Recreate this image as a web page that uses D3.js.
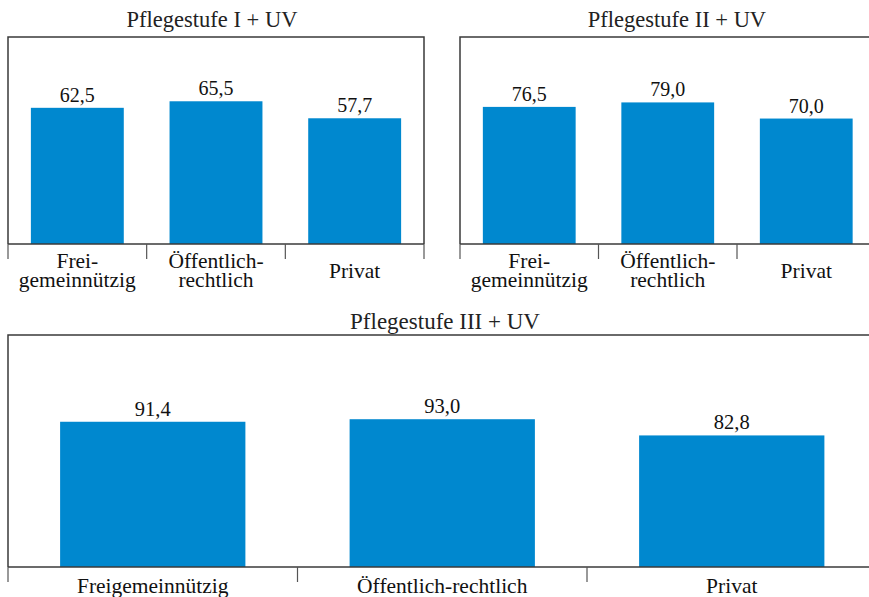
<!DOCTYPE html>
<html>
<head>
<meta charset="utf-8">
<script src="https://cdn.jsdelivr.net/npm/d3@7"></script>
<style>
  html, body { margin: 0; padding: 0; background: #fff; }
  svg { display: block; }
</style>
</head>
<body>
<svg id="chart" width="869" height="597"></svg>
<script>
// values
const panelTitles = ["Pflegestufe I + UV", "Pflegestufe II + UV", "Pflegestufe III + UV"];
const categories = ["Freigemeinnützig", "Öffentlich-rechtlich", "Privat"];
const shortLabels = [["Frei-", "gemeinnützig"], ["Öffentlich-", "rechtlich"], ["Privat"]];
const valuesI = [62.5, 65.5, 57.7];
const valuesII = [76.5, 79.0, 70.0];
const valuesIII = [91.4, 93.0, 82.8];
const yMax = [95, 115.5, 146];

const barColor = "#0088cf";
const lineColor = "#3a3a3a";
const serif = '"Liberation Serif"';
const fmt = (v) => v.toFixed(1).replace(".", ",");

// layout of the three panels
const panels = [
  { title: panelTitles[0], values: valuesI, yMax: yMax[0], x0: 8, x1: 424, top: 37, base: 244,
    barFrac: 0.67, titleX: 212, titleY: 27, tick: 15, labels: shortLabels, titleSize: 22.5, valueSize: 20, labelSize: 21.5 },
  { title: panelTitles[1], values: valuesII, yMax: yMax[1], x0: 460, x1: 875.5, top: 37, base: 244,
    barFrac: 0.67, titleX: 677, titleY: 27, tick: 15, labels: shortLabels, titleSize: 22.5, valueSize: 20, labelSize: 21.5 },
  { title: panelTitles[2], values: valuesIII, yMax: yMax[2], x0: 8, x1: 876.5, top: 335, base: 567,
    barFrac: 0.64, titleX: 445, titleY: 329, tick: 15, labels: categories.map((c) => [c]), titleSize: 23, valueSize: 20.5, labelSize: 21.5, labelDy: 26 }
];

const svg = d3.select("#chart");

panels.forEach((p) => {
  const g = svg.append("g");

  const x = d3.scaleBand().domain(categories).range([p.x0, p.x1]).padding(0);
  const y = d3.scaleLinear().domain([0, p.yMax]).range([p.base, p.top]);
  const bw = x.bandwidth() * p.barFrac;

  // bars
  g.selectAll("rect.bar")
    .data(p.values)
    .join("rect")
    .attr("class", "bar")
    .attr("x", (d, i) => x(categories[i]) + (x.bandwidth() - bw) / 2)
    .attr("y", (d) => y(d))
    .attr("width", bw)
    .attr("height", (d) => y(0) - y(d))
    .attr("fill", barColor);

  // value labels
  g.selectAll("text.val")
    .data(p.values)
    .join("text")
    .attr("class", "val")
    .attr("x", (d, i) => x(categories[i]) + x.bandwidth() / 2)
    .attr("y", (d) => y(d) - 6)
    .attr("text-anchor", "middle")
    .style("font-family", serif)
    .style("font-size", p.valueSize + "px")
    .attr("fill", "#111")
    .text(fmt);

  // frame: left, top, right
  g.append("path")
    .attr("d", `M${p.x0},${p.base}V${p.top}H${p.x1}V${p.base}`)
    .attr("fill", "none")
    .attr("stroke", lineColor)
    .attr("stroke-width", 1.5);

  // x axis: baseline and ticks at category boundaries
  const xAxis = g.append("g").attr("transform", `translate(0,${p.base})`);
  xAxis.append("line")
    .attr("x1", p.x0).attr("x2", p.x1)
    .attr("stroke", lineColor).attr("stroke-width", 1.5);
  const bounds = categories.map((c) => x(c)).concat([p.x1]);
  xAxis.selectAll("line.tick")
    .data(bounds)
    .join("line")
    .attr("class", "tick")
    .attr("x1", (d) => d).attr("x2", (d) => d)
    .attr("y1", 0).attr("y2", p.tick)
    .attr("stroke", "#555").attr("stroke-width", 1.2);

  // category labels
  const twoLine = p.labels.some((l) => l.length > 1);
  p.labels.forEach((lines, i) => {
    const cx = x(categories[i]) + x.bandwidth() / 2;
    const lh = 19;
    const first = (p.labelDy || 24) + (lines.length === 1 && twoLine ? lh / 2 : 0);
    const t = xAxis.append("text")
      .attr("text-anchor", "middle")
      .style("font-family", serif)
      .style("font-size", p.labelSize + "px")
      .attr("fill", "#111");
    lines.forEach((line, j) => {
      t.append("tspan").attr("x", cx).attr("y", first + j * lh).text(line);
    });
  });

  // title
  g.append("text")
    .attr("x", p.titleX)
    .attr("y", p.titleY)
    .attr("text-anchor", "middle")
    .style("font-family", serif)
    .style("font-size", p.titleSize + "px")
    .attr("fill", "#222")
    .text(p.title);
});
</script>
</body>
</html>
